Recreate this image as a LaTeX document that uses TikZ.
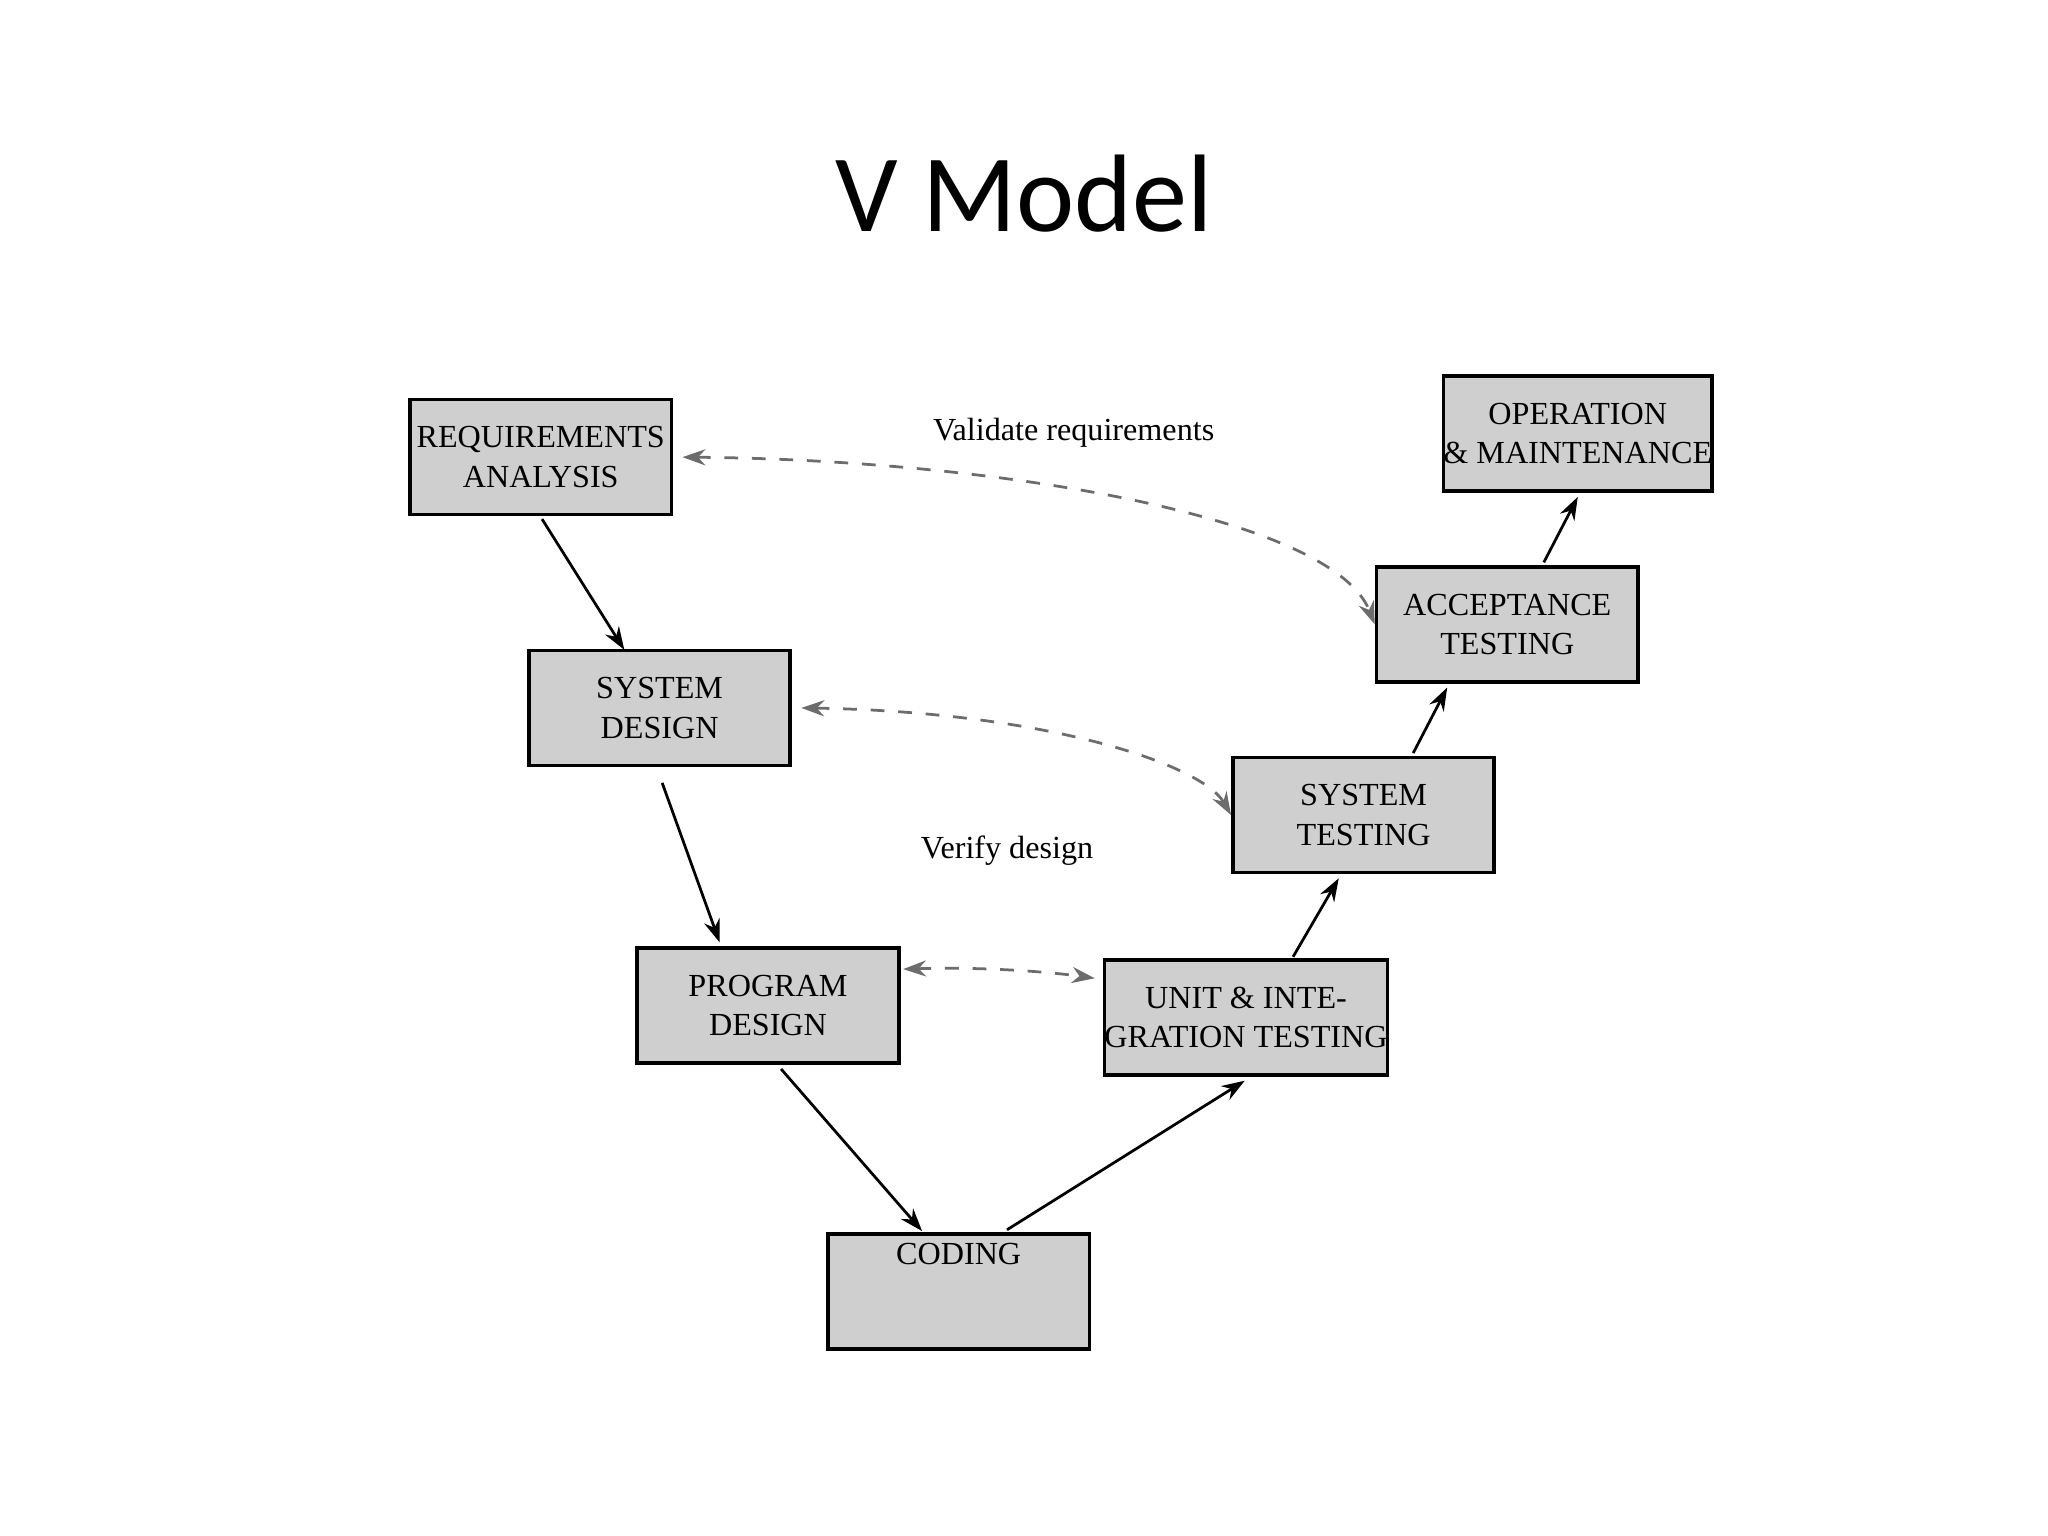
\documentclass[tikz,border=0pt]{standalone}
\usepackage{fontspec}
\setmainfont{Liberation Serif}
\newfontfamily\titlefont{Carlito}
\usetikzlibrary{arrows.meta}
\begin{document}
\begin{tikzpicture}[x=0.01cm,y=-0.01cm,
  box/.style={draw,thick,fill=gray!38,minimum width=2cm,minimum height=0.88cm,inner sep=0pt,align=center,font=\fontsize{7}{8.6}\selectfont},
  flow/.style={-{Stealth[length=5pt,width=3.5pt]},semithick},
  link/.style={{Stealth[length=5pt,width=3.5pt]}-{Stealth[length=5pt,width=3.5pt]},dashed,semithick,gray!85!black}]
\useasboundingbox (0,0) rectangle (1568,1176);
\node[font=\titlefont\fontsize{24}{28}\selectfont] (title) at (784,148) {V Model};
\node[box] (req) at (414,350) {REQUIREMENTS\\ANALYSIS};
\node[box] (sd) at (505,542) {SYSTEM\\DESIGN};
\node[box] (pd) at (588,770) {PROGRAM\\DESIGN};
\node[box] (cod) at (734,989) {CODING\\[8pt]};
\node[box,minimum width=2.12cm] (ut) at (954,779) {UNIT \& INTE-\\GRATION TESTING};
\node[box] (st) at (1044,624) {SYSTEM\\TESTING};
\node[box] (at) at (1154,478) {ACCEPTANCE\\TESTING};
\node[box] (om) at (1208,332) {OPERATION\\\& MAINTENANCE};
\node[font=\fontsize{7}{8.6}\selectfont] (vr) at (822,331) {Validate requirements};
\node[font=\fontsize{7}{8.6}\selectfont] (vd) at (771,651) {Verify design};
\draw[flow] (req.south) ++(1,2) coordinate (a1) -- ([shift={(-27,1)}]sd.north);
\draw[flow] ([shift={(2,12)}]sd.south) -- ([shift={(-37,-3)}]pd.north);
\draw[flow] ([shift={(10,3)}]pd.south) -- ([shift={(-28,-1)}]cod.north);
\draw[flow] ([shift={(37,-2)}]cod.north) -- ([shift={(-1,3)}]ut.south);
\draw[flow] ([shift={(36,-1)}]ut.north) -- ([shift={(-19,3)}]st.south);
\draw[flow] ([shift={(38,-2)}]st.north) -- ([shift={(-46,3)}]at.south);
\draw[flow] ([shift={(28,-2)}]at.north) -- ([shift={(0,3)}]om.south);
\draw[link] ([xshift=2]req.east) .. controls (760,352) and (1020,395) .. (at.west);
\draw[link] ([xshift=2]sd.east) .. controls (800,545) and (920,585) .. (st.west);
\draw[link] ([shift={(2,-28)}]pd.east) .. controls (760,740) and (810,745) .. ([shift={(-6,-30)}]ut.west);
\end{tikzpicture}
\end{document}
